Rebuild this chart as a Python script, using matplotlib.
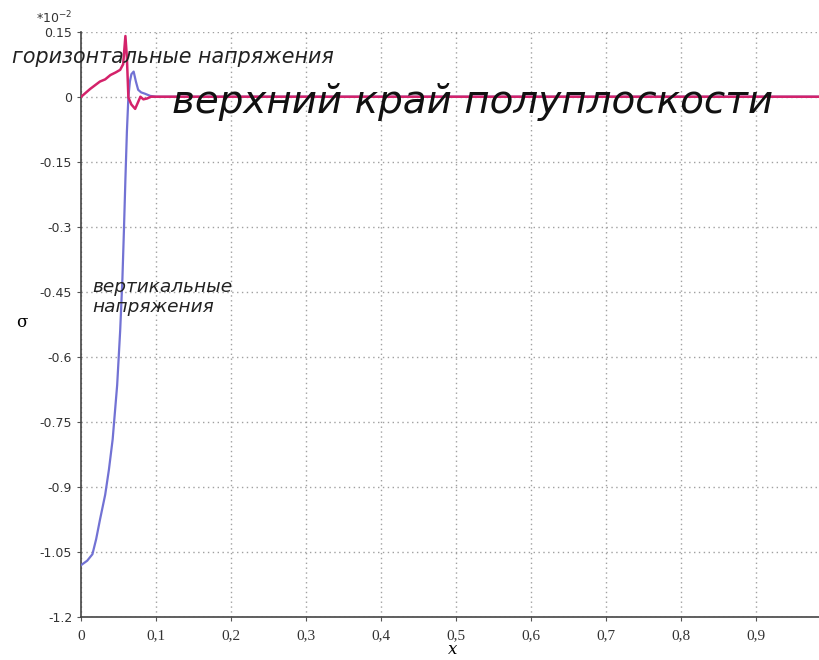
import matplotlib
matplotlib.use('Agg')
import matplotlib.pyplot as plt
import numpy as np

# horizontal stresses (magenta), values in units of 1e-2
x_horiz = [0.0, 0.012, 0.025, 0.032, 0.039, 0.046, 0.052, 0.056, 0.059, 0.061, 0.063, 0.067,
           0.072, 0.076, 0.079, 0.083, 0.088, 0.093, 0.1, 0.15, 0.3, 0.5, 0.7, 1.0]
s_horiz = [0.0, 0.018, 0.035, 0.04, 0.05, 0.056, 0.062, 0.075, 0.14, 0.09, -0.002, -0.018,
           -0.028, -0.012, 0.0, -0.006, -0.004, 0.0, 0.0, 0.0, 0.0, 0.0, 0.0, 0.0]

# vertical stresses (blue)
x_vert = [0.0, 0.008, 0.015, 0.02, 0.025, 0.032, 0.037, 0.042, 0.048, 0.052, 0.055, 0.057,
          0.059, 0.061, 0.063, 0.065, 0.067, 0.07, 0.073, 0.076, 0.08, 0.085, 0.092, 0.1,
          0.2, 0.5, 1.0]
s_vert = [-1.08, -1.07, -1.055, -1.02, -0.976, -0.918, -0.86, -0.79, -0.665, -0.54, -0.42, -0.31,
          -0.19, -0.08, 0.0, 0.035, 0.052, 0.058, 0.035, 0.016, 0.01, 0.007, 0.002, 0.0,
          0.0, 0.0, 0.0]

y_ticks = [0.15, 0, -0.15, -0.3, -0.45, -0.6, -0.75, -0.9, -1.05, -1.2]
y_labels = ['0.15', '0', '-0.15', '-0.3', '-0.45', '-0.6', '-0.75', '-0.9', '-1.05', '-1.2']
x_ticks = [0, 0.1, 0.2, 0.3, 0.4, 0.5, 0.6, 0.7, 0.8, 0.9]
x_labels = ['0', '0,1', '0,2', '0,3', '0,4', '0,5', '0,6', '0,7', '0,8', '0,9']

fig = plt.figure(figsize=(8.2, 6.6), dpi=100)
ax = fig.add_axes([0.099, 0.065, 0.905, 0.887])

ax.plot(x_vert, s_vert, color='#7272d4', lw=1.6, zorder=3)
ax.plot(x_horiz, s_horiz, color='#d4226a', lw=1.8, zorder=4)

ax.set_xlim(0, 0.99)
ax.set_ylim(-1.2, 0.15)
ax.set_yticks(y_ticks)
ax.set_yticklabels(y_labels, fontsize=9, color='#333333')
ax.set_xticks(x_ticks)
ax.set_xticklabels(x_labels, fontsize=11, family='Liberation Serif', color='#333333')
ax.tick_params(length=3, width=0.8, color='#555555')
ax.tick_params(axis='x', pad=6)
ax.grid(True, linestyle=(0, (1, 2.5)), color='#a0a0a0', lw=1)

for s in ['top', 'right']:
    ax.spines[s].set_visible(False)
for s in ['left', 'bottom']:
    ax.spines[s].set_color('#444444')
    ax.spines[s].set_linewidth(1.2)

ax.set_xlabel('x', fontsize=12, family='DejaVu Serif', style='italic', labelpad=-1)
fig.text(0.027, 0.512, 'σ', fontsize=12, family='DejaVu Serif', ha='center', va='center')
fig.text(0.044, 0.972, r'*10$^{-2}$', fontsize=9, color='#333333', ha='left', va='center')

fig.text(0.015, 0.913, 'горизонтальные напряжения', fontsize=14.9, style='italic',
         color='#222222', ha='left', va='center')
fig.text(0.21, 0.846, 'верхний край полуплоскости', fontsize=28, style='italic',
         color='#111111', ha='left', va='center')
fig.text(0.112, 0.55, 'вертикальные\nнапряжения', fontsize=13.3, style='italic',
         color='#222222', ha='left', va='center', linespacing=1.2)

fig.savefig('out.png', dpi=100)
